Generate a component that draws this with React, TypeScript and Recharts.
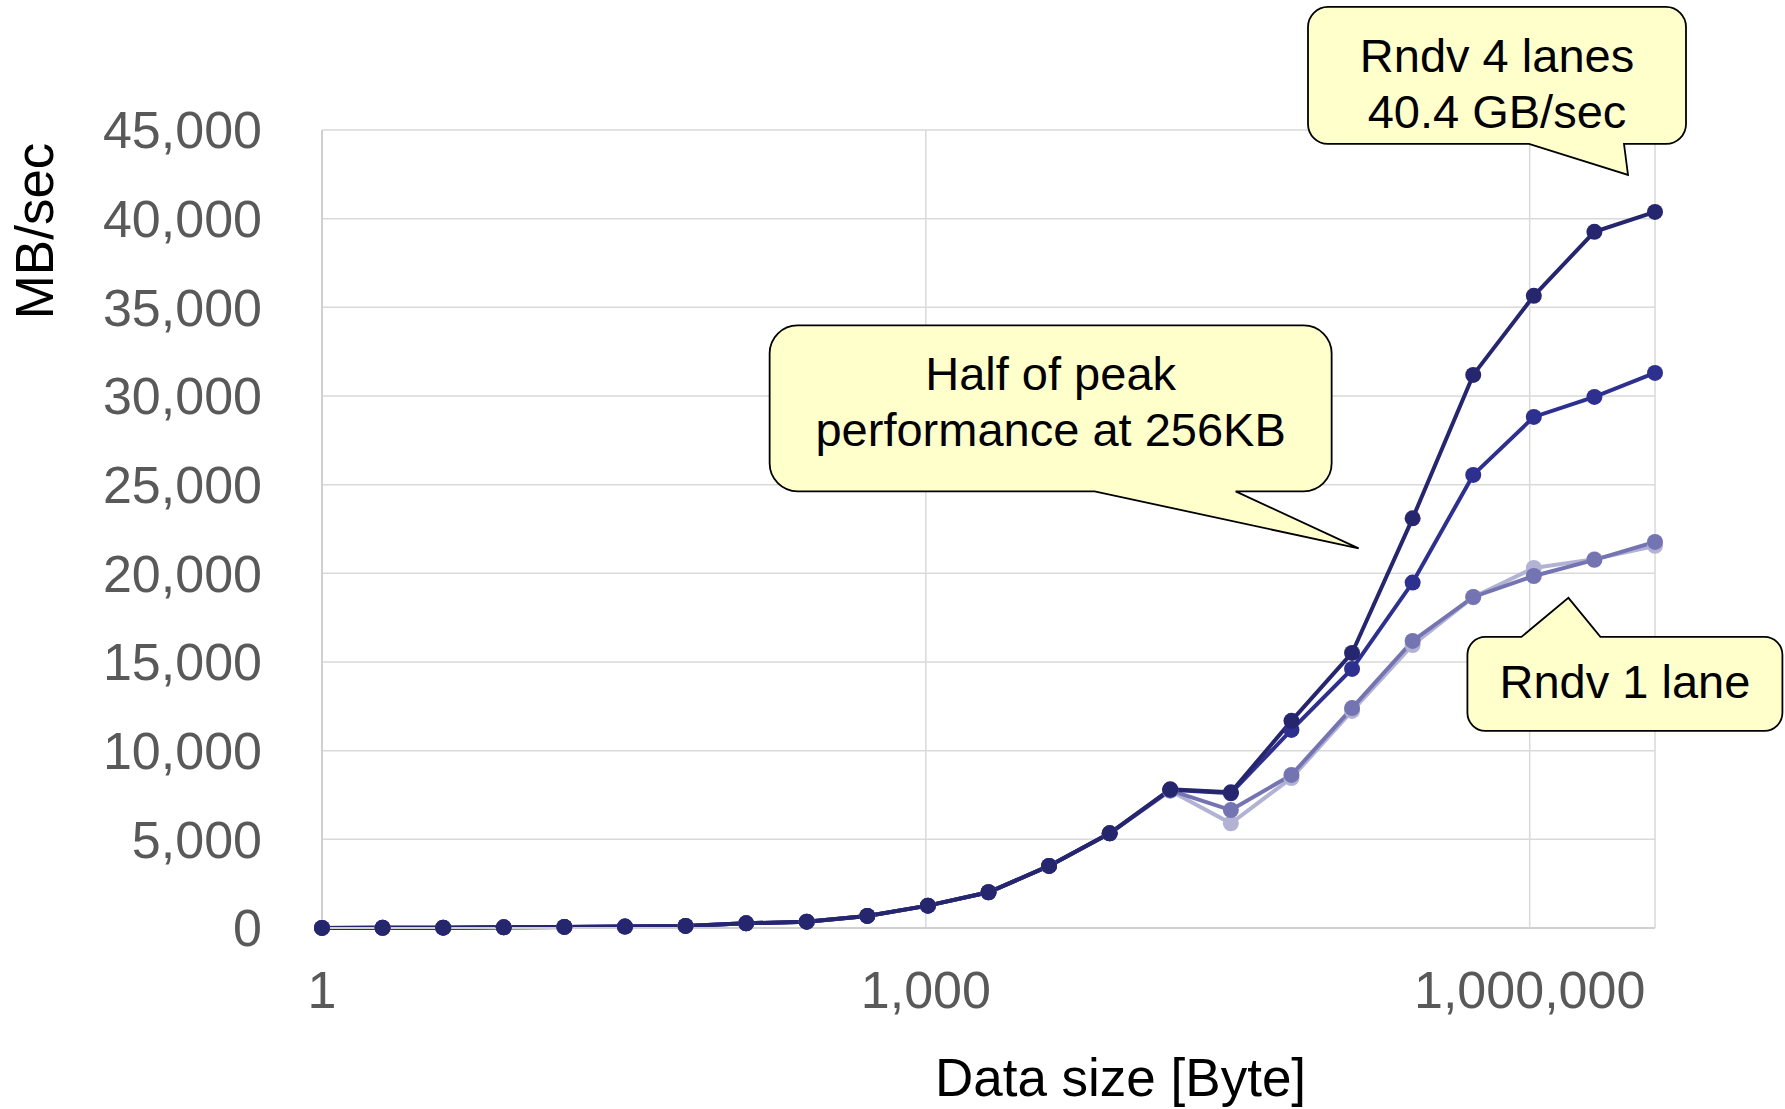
import { CartesianGrid, Label, Line, LineChart, ReferenceDot, XAxis, YAxis } from 'recharts'

// message sizes in bytes (2^0 .. 2^22)
const sizes = [
  1, 2, 4, 8, 16, 32, 64, 128, 256, 512, 1024, 2048, 4096, 8192, 16384, 32768, 65536, 131072,
  262144, 524288, 1048576, 2097152, 4194304,
]

// MB/sec
const lanes4 = [
  5, 10, 20, 40, 60, 80, 115, 265, 355, 680, 1260, 2015, 3500, 5340, 7820, 7650, 11680, 15510,
  23100, 31190, 35650, 39260, 40380,
]
const lanes2 = [
  5, 10, 20, 40, 60, 80, 115, 265, 355, 680, 1260, 2015, 3500, 5340, 7800, 7600, 11170, 14610,
  19480, 25550, 28820, 29950, 31300,
]
const lane1 = [
  5, 10, 20, 40, 60, 80, 115, 265, 355, 680, 1260, 2015, 3500, 5340, 7760, 6650, 8630, 12400,
  16190, 18670, 19850, 20760, 21770,
]
const lane1b = [
  5, 10, 20, 40, 60, 80, 115, 265, 355, 680, 1260, 2015, 3500, 5340, 7740, 5900, 8460, 12240,
  15960, 18650, 20300, 20800, 21550,
]

const xTicks = [1, 1000, 1000000]
const yTicks = [0, 5000, 10000, 15000, 20000, 25000, 30000, 35000, 40000, 45000]

const data = sizes.map((size, i) => ({
  size,
  lanes4: lanes4[i],
  lanes2: lanes2[i],
  lane1: lane1[i],
  lane1b: lane1b[i],
}))

const FONT = '"Liberation Sans", Arial, sans-serif'

const series = [
  { key: 'lane1b', color: '#b2b2d4' },
  { key: 'lane1', color: '#7474b2' },
  { key: 'lanes2', color: '#2e3090' },
  { key: 'lanes4', color: '#26266f' },
]

// callout boxes, offsets relative to the data point they sit next to
const callouts = [
  {
    lines: ['Rndv 4 lanes', '40.4 GB/sec'],
    series: lanes4,
    index: 22,
    side: 'bottom',
    box: { left: -347, right: 31, top: -205, bottom: -68, r: 20 },
    tail: { b1: -126, b2: -31, tx: -27, ty: -37 },
    baseline: -140,
  },
  {
    lines: ['Half of peak', 'performance at 256KB'],
    series: lanes4,
    index: 18,
    side: 'bottom',
    box: { left: -643, right: -81, top: -193, bottom: -27, r: 28 },
    tail: { b1: -318, b2: -177, tx: -54, ty: 30 },
    baseline: -128,
  },
  {
    lines: ['Rndv 1 lane'],
    series: lane1,
    index: 21,
    side: 'top',
    box: { left: -127, right: 188, top: 77, bottom: 171, r: 18 },
    tail: { b1: -73, b2: 6, tx: -26, ty: 38 },
    baseline: 138,
  },
]

function calloutPath(cx: number, cy: number, c: any) {
  const L = cx + c.box.left
  const R = cx + c.box.right
  const T = cy + c.box.top
  const B = cy + c.box.bottom
  const r = c.box.r
  const b1 = cx + c.tail.b1
  const b2 = cx + c.tail.b2
  const tx = cx + c.tail.tx
  const ty = cy + c.tail.ty
  const arc = (x: number, y: number) => `A${r},${r} 0 0 1 ${x},${y}`
  if (c.side === 'bottom') {
    return `M${L + r},${T} H${R - r} ${arc(R, T + r)} V${B - r} ${arc(R - r, B)} H${b2} L${tx},${ty} L${b1},${B} H${L + r} ${arc(L, B - r)} V${T + r} ${arc(L + r, T)} Z`
  }
  return `M${L + r},${T} H${b1} L${tx},${ty} L${b2},${T} H${R - r} ${arc(R, T + r)} V${B - r} ${arc(R - r, B)} H${L + r} ${arc(L, B - r)} V${T + r} ${arc(L + r, T)} Z`
}

function Callout(props: any) {
  const { cx, cy, c } = props
  if (cx == null || cy == null) return null
  const midX = cx + (c.box.left + c.box.right) / 2
  return (
    <g>
      <path d={calloutPath(cx, cy, c)} fill="#ffffcc" stroke="#000" strokeWidth={1.8} />
      {c.lines.map((line: string, i: number) => (
        <text
          key={line}
          x={midX}
          y={cy + c.baseline + i * 56}
          textAnchor="middle"
          fontSize={47}
          fontFamily={FONT}
          fill="#000"
        >
          {line}
        </text>
      ))}
    </g>
  )
}

function YTitle(props: any) {
  const { viewBox } = props
  const x = viewBox.x + 53
  const y = viewBox.y + 101
  return (
    <text
      x={x}
      y={y}
      transform={`rotate(-90 ${x} ${y})`}
      textAnchor="middle"
      fontSize={53}
      fontFamily={FONT}
      fill="#000"
    >
      MB/sec
    </text>
  )
}

function XTitle(props: any) {
  const { viewBox } = props
  return (
    <text
      x={viewBox.x + viewBox.width / 2 + 132}
      y={viewBox.y + 168}
      textAnchor="middle"
      fontSize={53}
      fontFamily={FONT}
      fill="#000"
    >
      Data size [Byte]
    </text>
  )
}

export default function App() {
  return (
    <div style={{ position: 'absolute', left: 0, top: 0, background: '#fff' }}>
      <LineChart
        width={1785}
        height={1109}
        data={data}
        margin={{ top: 130, right: 130, left: 0, bottom: 0 }}
      >
        <CartesianGrid stroke="#d9d9d9" strokeWidth={1.5} />
        <XAxis
          dataKey="size"
          type="number"
          scale="log"
          domain={[1, 4194304]}
          ticks={xTicks}
          tickFormatter={(v: number) => v.toLocaleString('en-US')}
          tick={{ fill: '#595959', fontSize: 52, fontFamily: FONT }}
          tickLine={false}
          tickMargin={37}
          axisLine={{ stroke: '#d0d0d0', strokeWidth: 2 }}
          height={181}
          allowDataOverflow
        >
          <Label content={<XTitle />} />
        </XAxis>
        <YAxis
          domain={[0, 45000]}
          ticks={yTicks}
          tickFormatter={(v: number) => v.toLocaleString('en-US')}
          tick={{ fill: '#595959', fontSize: 52, fontFamily: FONT }}
          tickLine={false}
          tickMargin={54}
          axisLine={{ stroke: '#d0d0d0', strokeWidth: 2 }}
          width={322}
        >
          <Label content={<YTitle />} />
        </YAxis>
        {series.map((s) => (
          <Line
            key={s.key}
            dataKey={s.key}
            type="linear"
            stroke={s.color}
            strokeWidth={4}
            dot={{ r: 8, fill: s.color, stroke: s.color, strokeWidth: 0, clipDot: false }}
            activeDot={false}
            isAnimationActive={false}
          />
        ))}
        {callouts.map((c) => (
          <ReferenceDot
            key={c.lines[0]}
            x={sizes[c.index]}
            y={c.series[c.index]}
            ifOverflow="visible"
            shape={(p: any) => <Callout cx={p.cx} cy={p.cy} c={c} />}
          />
        ))}
      </LineChart>
    </div>
  )
}
